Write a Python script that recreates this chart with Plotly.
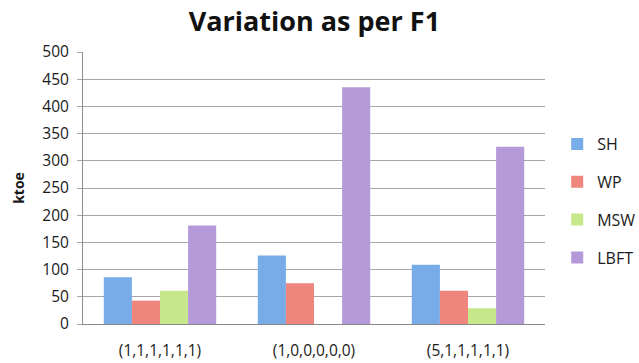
import plotly.graph_objects as go

# Scenario weightings on the category axis
categories = ["(1,1,1,1,1,1)", "(1,0,0,0,0,0)", "(5,1,1,1,1,1)"]

# Energy per source, in ktoe
sh_values = [86, 126, 109]
wp_values = [43, 75, 61]
msw_values = [61, 0, 29]
lbft_values = [181, 435, 326]

y_ticks = [0, 50, 100, 150, 200, 250, 300, 350, 400, 450, 500]

series = [
    ("SH", sh_values, "#78ace8"),
    ("WP", wp_values, "#ee867e"),
    ("MSW", msw_values, "#c6e88a"),
    ("LBFT", lbft_values, "#b49ad9"),
]

font_family = "'Open Sans', Lato, sans-serif"

fig = go.Figure()
for i, (name, values, fill) in enumerate(series):
    fig.add_trace(go.Bar(
        name=name,
        x=categories,
        y=values,
        marker=dict(color=fill, line=dict(width=0)),
        legendgroup=f"g{i}",
    ))

fig.update_layout(
    width=639,
    height=363,
    margin=dict(l=83, r=94, t=52, b=39, autoexpand=False),
    paper_bgcolor="white",
    plot_bgcolor="white",
    barmode="group",
    bargap=0.27,
    bargroupgap=0,
    font=dict(family=font_family, size=15.5, color="#1a1a1a"),
    title=dict(
        text="<b>Variation as per F1</b>",
        x=0.492,
        xanchor="center",
        y=0.94,
        yanchor="middle",
        font=dict(family=font_family, size=27, color="#111111"),
    ),
    legend=dict(
        xref="container",
        yref="container",
        x=0.872,
        xanchor="left",
        y=0.446,
        yanchor="middle",
        traceorder="grouped",
        tracegroupgap=14,
        font=dict(family=font_family, size=16, color="#1a1a1a"),
        itemwidth=30,
        bgcolor="rgba(0,0,0,0)",
    ),
    xaxis=dict(
        showgrid=False,
        showline=True,
        linecolor="#8c8c8c",
        linewidth=1,
        ticks="",
        ticklabelstandoff=12,
        tickfont=dict(size=15.5),
    ),
    yaxis=dict(
        range=[0, 500],
        tickvals=y_ticks,
        showgrid=True,
        gridcolor="#a6a6a6",
        gridwidth=1,
        showline=True,
        linecolor="#8c8c8c",
        linewidth=1,
        ticks="outside",
        ticklen=5,
        tickcolor="#a6a6a6",
        ticklabelstandoff=5,
        tickfont=dict(size=15.5),
        zeroline=False,
        title=dict(text="<b>ktoe</b>", font=dict(size=14), standoff=14),
    ),
)

fig.write_html("out.html")
